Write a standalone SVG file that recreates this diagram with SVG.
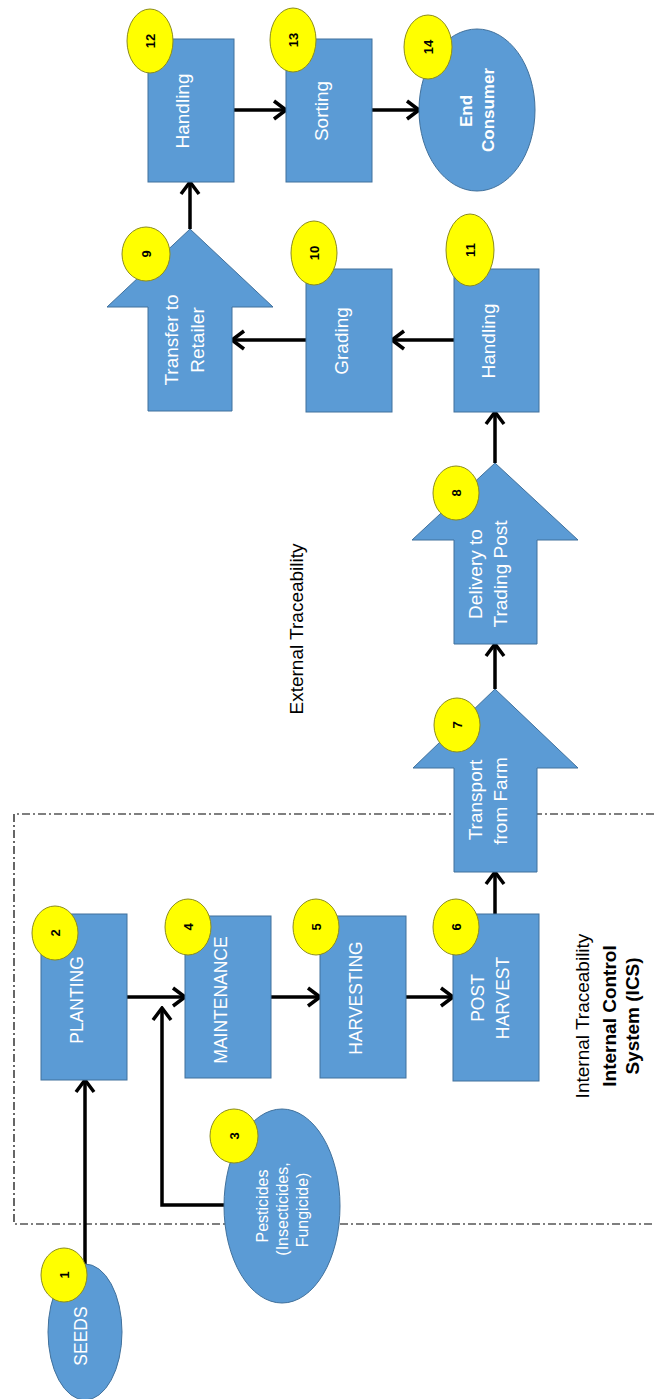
<svg xmlns="http://www.w3.org/2000/svg" width="654" height="1399" viewBox="0 0 654 1399">
<style>
.box{fill:#5B9BD5;stroke:#41719C;stroke-width:1}
.num{fill:#FFFF00;stroke:#8C8C1E;stroke-width:1}
.nt{font-family:"Liberation Sans",Arial,sans-serif;font-size:13px;font-weight:bold;fill:#000;text-anchor:middle}
.lt{font-family:"Liberation Sans",Arial,sans-serif;font-size:19px;fill:#fff;text-anchor:middle}
.lc{font-family:"Liberation Sans",Arial,sans-serif;font-size:17.5px;fill:#fff;text-anchor:middle}
.lb{font-family:"Liberation Sans",Arial,sans-serif;font-size:17px;font-weight:bold;fill:#fff;text-anchor:middle}
.ls{font-family:"Liberation Sans",Arial,sans-serif;font-size:16px;fill:#fff;text-anchor:middle}
.ct{font-family:"Liberation Sans",Arial,sans-serif;font-size:19px;fill:#000;text-anchor:middle}
.cb{font-family:"Liberation Sans",Arial,sans-serif;font-size:19px;font-weight:bold;fill:#000;text-anchor:middle}
.con{fill:none;stroke:#000;stroke-width:3.5;marker-end:url(#ah)}
</style>
<defs>
<marker id="ah" viewBox="0 0 16 22" refX="14" refY="11" markerWidth="16" markerHeight="22" markerUnits="userSpaceOnUse" orient="auto">
<path d="M2,2 L14,11 L2,20" fill="none" stroke="#000" stroke-width="3.5"/>
</marker>
</defs>
<rect width="654" height="1399" fill="#fff"/>
<g id="boundary">
<path d="M654,814 L14,814 L14,1224 L654,1224" fill="none" stroke="#000" stroke-width="1.2" stroke-dasharray="8,3,2,3"/>
<text class="ct" transform="translate(303,629) rotate(-90)">External Traceability</text>
<text class="ct" transform="translate(589,1016) rotate(-90)">Internal Traceability</text>
<text class="cb" transform="translate(616,1016) rotate(-90)">Internal Control</text>
<text class="cb" transform="translate(639,1016) rotate(-90)">System (ICS)</text>
</g>
<g id="connectors">
<line class="con" x1="234" y1="110" x2="286" y2="110"/>
<line class="con" x1="372" y1="110" x2="419" y2="110"/>
<line class="con" x1="190" y1="229" x2="190" y2="182"/>
<line class="con" x1="454" y1="340" x2="392" y2="340"/>
<line class="con" x1="306" y1="340" x2="232" y2="340"/>
<line class="con" x1="495" y1="463" x2="495" y2="412"/>
<line class="con" x1="495" y1="689" x2="495" y2="644"/>
<line class="con" x1="495" y1="914" x2="495" y2="872"/>
<line class="con" x1="127" y1="997" x2="185" y2="997"/>
<line class="con" x1="271" y1="997" x2="320" y2="997"/>
<line class="con" x1="406" y1="997" x2="453" y2="997"/>
<line class="con" x1="85" y1="1265" x2="85" y2="1080"/>
<polyline class="con" points="226,1205 162,1205 162,1008"/>
</g>
<g id="n1">
<ellipse class="box" cx="85" cy="1332" rx="37" ry="68"/>
<text class="lc" transform="translate(87,1336) rotate(-90)">SEEDS</text>
<ellipse class="num" cx="64" cy="1275" rx="23" ry="27"/>
<text class="nt" transform="translate(69,1275) rotate(-90)">1</text>
</g>
<g id="n2">
<rect class="box" x="41" y="914" width="86" height="166"/>
<text class="lc" transform="translate(83,1000) rotate(-90)">PLANTING</text>
<ellipse class="num" cx="55" cy="933" rx="23" ry="27"/>
<text class="nt" transform="translate(60,933) rotate(-90)">2</text>
</g>
<g id="n3">
<ellipse class="box" cx="282" cy="1206" rx="58" ry="97"/>
<text class="ls" transform="translate(268,1206) rotate(-90)">Pesticides</text>
<text class="ls" transform="translate(288,1209) rotate(-90)">(Insecticides,</text>
<text class="ls" transform="translate(308,1210) rotate(-90)">Fungicide)</text>
<ellipse class="num" cx="234" cy="1136" rx="24" ry="27"/>
<text class="nt" transform="translate(239,1136) rotate(-90)">3</text>
</g>
<g id="n4">
<rect class="box" x="185" y="916" width="86" height="162"/>
<text class="lc" transform="translate(227,1000) rotate(-90)">MAINTENANCE</text>
<ellipse class="num" cx="188" cy="927" rx="23" ry="28"/>
<text class="nt" transform="translate(193,927) rotate(-90)">4</text>
</g>
<g id="n5">
<rect class="box" x="320" y="916" width="86" height="162"/>
<text class="lc" transform="translate(362,998) rotate(-90)">HARVESTING</text>
<ellipse class="num" cx="316" cy="927" rx="23" ry="28"/>
<text class="nt" transform="translate(321,927) rotate(-90)">5</text>
</g>
<g id="n6">
<rect class="box" x="453" y="914" width="86" height="167"/>
<text class="lc" transform="translate(484,998) rotate(-90)">POST</text>
<text class="lc" transform="translate(509,998) rotate(-90)">HARVEST</text>
<ellipse class="num" cx="456" cy="927" rx="23" ry="28"/>
<text class="nt" transform="translate(461,927) rotate(-90)">6</text>
</g>
<g id="n7">
<polygon class="box" points="495,689 578,768 537,768 537,872 454,872 454,768 413,768"/>
<text class="lt" transform="translate(482,800) rotate(-90)">Transport</text>
<text class="lt" transform="translate(507,801) rotate(-90)">from Farm</text>
<ellipse class="num" cx="457" cy="725" rx="23" ry="27"/>
<text class="nt" transform="translate(462,725) rotate(-90)">7</text>
</g>
<g id="n8">
<polygon class="box" points="495,463 578,540 537,540 537,644 454,644 454,540 412,540"/>
<text class="lt" transform="translate(482,574) rotate(-90)">Delivery to</text>
<text class="lt" transform="translate(507,574) rotate(-90)">Trading Post</text>
<ellipse class="num" cx="456" cy="493" rx="23" ry="27"/>
<text class="nt" transform="translate(461,493) rotate(-90)">8</text>
</g>
<g id="n9">
<polygon class="box" points="190,229 273,307 232,307 232,411 148,411 148,307 107,307"/>
<text class="lt" transform="translate(178,340) rotate(-90)">Transfer to</text>
<text class="lt" transform="translate(204,340) rotate(-90)">Retailer</text>
<ellipse class="num" cx="146" cy="254" rx="24" ry="27"/>
<text class="nt" transform="translate(151,254) rotate(-90)">9</text>
</g>
<g id="n10">
<rect class="box" x="306" y="269" width="86" height="143"/>
<text class="lt" transform="translate(348,341) rotate(-90)">Grading</text>
<ellipse class="num" cx="314" cy="253" rx="23" ry="32"/>
<text class="nt" transform="translate(319,253) rotate(-90)">10</text>
</g>
<g id="n11">
<rect class="box" x="454" y="269" width="85" height="143"/>
<text class="lt" transform="translate(495,341) rotate(-90)">Handling</text>
<ellipse class="num" cx="470" cy="250" rx="24" ry="36"/>
<text class="nt" transform="translate(475,250) rotate(-90)">11</text>
</g>
<g id="n12">
<rect class="box" x="148" y="39" width="86" height="143"/>
<text class="lt" transform="translate(189,111) rotate(-90)">Handling</text>
<ellipse class="num" cx="150" cy="41" rx="23" ry="32"/>
<text class="nt" transform="translate(155,41) rotate(-90)">12</text>
</g>
<g id="n13">
<rect class="box" x="286" y="39" width="86" height="143"/>
<text class="lt" transform="translate(328,111) rotate(-90)">Sorting</text>
<ellipse class="num" cx="293" cy="40" rx="23" ry="32"/>
<text class="nt" transform="translate(298,40) rotate(-90)">13</text>
</g>
<g id="n14">
<ellipse class="box" cx="477" cy="110" rx="58" ry="81"/>
<text class="lb" transform="translate(472,111) rotate(-90)">End</text>
<text class="lb" transform="translate(494,110) rotate(-90)">Consumer</text>
<ellipse class="num" cx="428" cy="47" rx="24" ry="32"/>
<text class="nt" transform="translate(433,47) rotate(-90)">14</text>
</g>
</svg>
